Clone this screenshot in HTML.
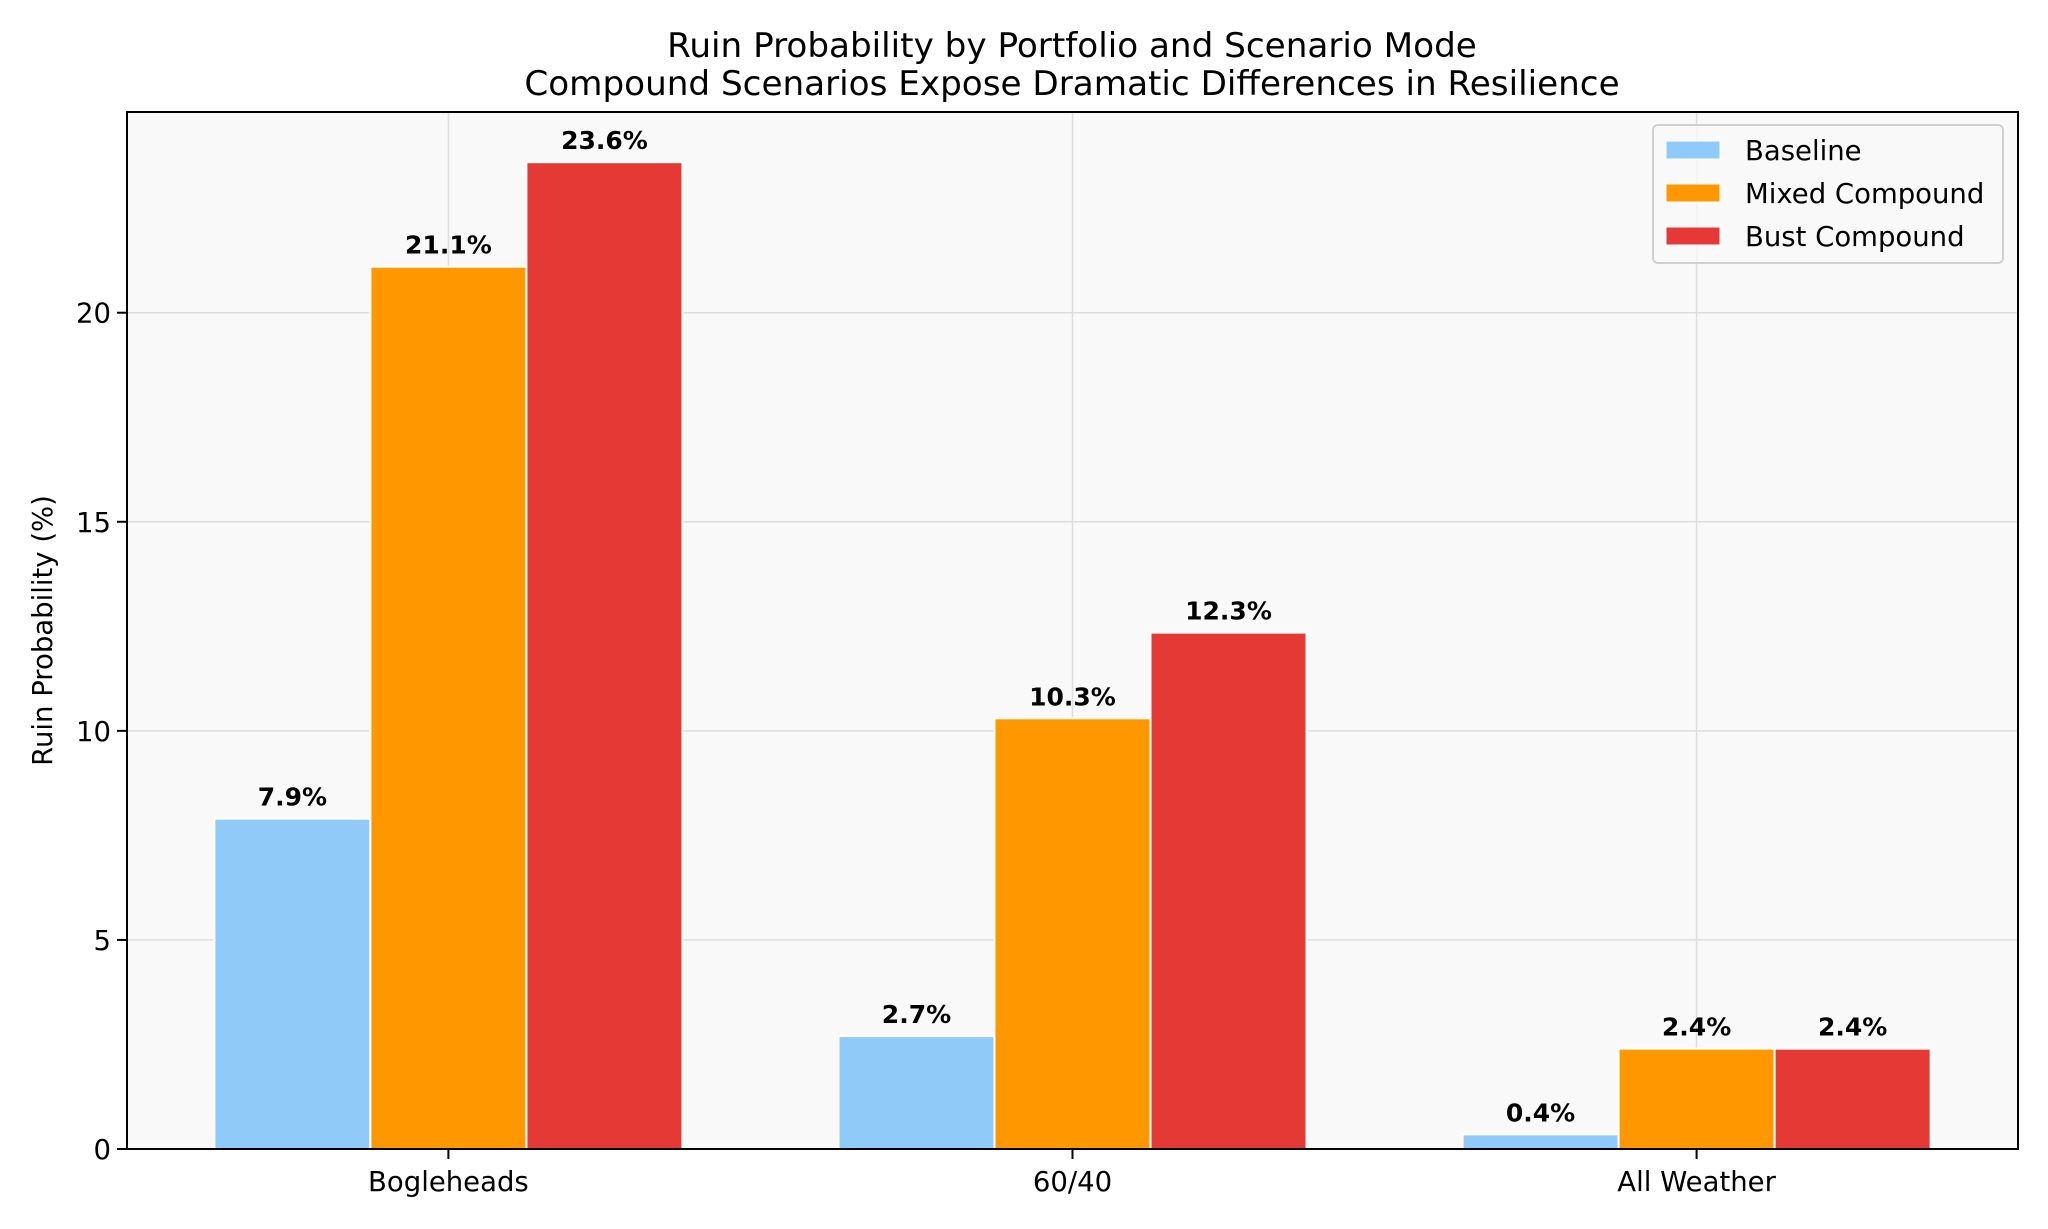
<!DOCTYPE html>
<html><head><meta charset="utf-8"><style>
html,body{margin:0;padding:0;background:#fff;}
svg{display:block;font-family:"DejaVu Sans","Liberation Sans",sans-serif;}
</style></head><body>
<svg id="chart" width="2048" height="1229" viewBox="0 0 2048 1229" xmlns="http://www.w3.org/2000/svg">
<rect x="0" y="0" width="2048" height="1229" fill="#fff"/>
<text x="1072" y="57" font-size="34.2" text-anchor="middle">Ruin Probability by Portfolio and Scenario Mode</text>
<text x="1072" y="95" font-size="34.2" text-anchor="middle">Compound Scenarios Expose Dramatic Differences in Resilience</text>
<g id="plot"></g>
</svg>
<script>
const categories = ["Bogleheads", "60/40", "All Weather"];
const seriesNames = ["Baseline", "Mixed Compound", "Bust Compound"];
const baseline = [7.9, 2.7, 0.35];
const mixed = [21.1, 10.3, 2.4];
const bust = [23.6, 12.35, 2.4];
const baselineLabels = ["7.9%", "2.7%", "0.4%"];
const mixedLabels = ["21.1%", "10.3%", "2.4%"];
const bustLabels = ["23.6%", "12.3%", "2.4%"];
const yTicks = [0, 5, 10, 15, 20];

const colors = ["#90caf9", "#ff9800", "#e53935"];
const L = 127, R = 2018, T = 112, B = 1149;
const yMax = 24.8, xMin = -0.515, xMax = 2.515;
const NS = "http://www.w3.org/2000/svg";
const g = document.getElementById('plot');
function xs(v){ return L + (v - xMin) / (xMax - xMin) * (R - L); }
function ys(v){ return B - v / yMax * (B - T); }
function el(tag, attrs, parent){
  const e = document.createElementNS(NS, tag);
  for (const k in attrs) e.setAttribute(k, attrs[k]);
  (parent || g).appendChild(e);
  return e;
}
const bg = el('rect', {x:L, y:T, width:R-L, height:B-T, fill:'#f9f9f9'});


yTicks.forEach(t => {
  const gl = el('line', {x1:L, x2:R, y1:ys(t), y2:ys(t), stroke:'#dddddd', 'stroke-width':1.5});
  
  
});
categories.forEach((c, i) => {
  const gl = el('line', {x1:xs(i), x2:xs(i), y1:T, y2:B, stroke:'#dddddd', 'stroke-width':1.5});
  
  
});
const series = [baseline, mixed, bust];
const labels = [baselineLabels, mixedLabels, bustLabels];
const bw = 0.25;
series.forEach((vals, s) => {
  vals.forEach((v, i) => {
    const cx = i + (s - 1) * bw;
    const x0 = xs(cx - bw/2), x1 = xs(cx + bw/2);
    const r = el('rect', {x:x0, y:ys(v), width:x1-x0, height:ys(0)-ys(v), fill:colors[s], stroke:'#fff', 'stroke-width':2});
    
    
    const t = el('text', {x:xs(cx), y:ys(v) - 13, 'font-size':25, 'font-weight':'bold', 'text-anchor':'middle'});
    t.textContent = labels[s][i];
    
    
  });
});
const fr = el('rect', {x:L, y:T, width:R-L, height:B-T, fill:'none', stroke:'#000', 'stroke-width':2});


yTicks.forEach(t => {
  const tk = el('line', {x1:L-10, x2:L, y1:ys(t), y2:ys(t), stroke:'#000', 'stroke-width':2});
  
  
  const tl = el('text', {x:L-16, y:ys(t)+10, 'font-size':27.5, 'text-anchor':'end'});
  tl.textContent = t;
  
  
});
categories.forEach((c, i) => {
  const tk = el('line', {x1:xs(i), x2:xs(i), y1:B, y2:B+10, stroke:'#000', 'stroke-width':2});
  
  
  const tl = el('text', {x:xs(i), y:B+42, 'font-size':27.5, 'text-anchor':'middle'});
  tl.textContent = c;
  
  
});
const yl = el('text', {x:0, y:0, 'font-size':27.5, 'text-anchor':'middle', transform:'translate(52,' + ((T+B)/2) + ') rotate(-90)'});
yl.textContent = 'Ruin Probability (%)';


const lg = el('g', {});


el('rect', {x:1653, y:125, width:350, height:138, rx:5, fill:'#f9f9f9', 'fill-opacity':0.8, stroke:'#d0d0d0', 'stroke-width':2}, lg);
seriesNames.forEach((n, s) => {
  const cy = 150 + s * 43;
  const e = el('g', {}, lg);
  
  
  el('rect', {x:1666, y:cy-9, width:54, height:18, fill:colors[s], stroke:'#fff', 'stroke-width':1}, e);
  const t = el('text', {x:1745, y:cy+10, 'font-size':27.5}, e);
  t.textContent = n;
});
</script>
</body></html>
